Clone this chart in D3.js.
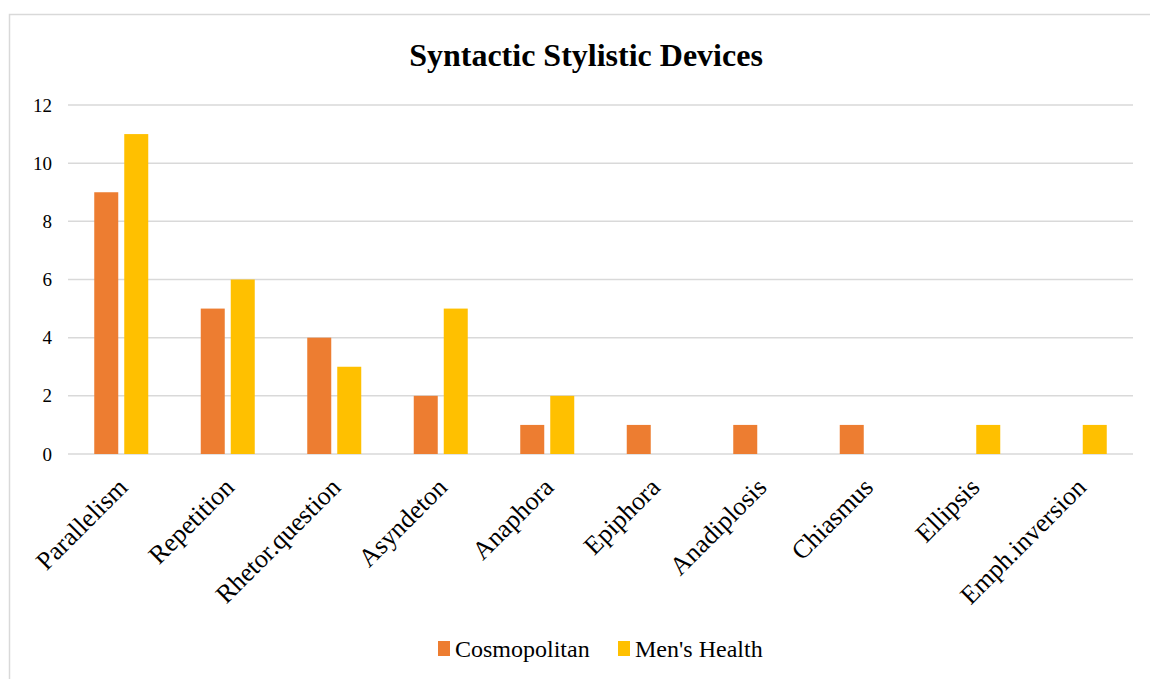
<!DOCTYPE html>
<html>
<head>
<meta charset="utf-8">
<script src="https://cdn.jsdelivr.net/npm/d3@7"></script>
<style>
  body { margin: 0; background: #fff; }
  text { font-family: "Liberation Serif", "Times New Roman", serif; fill: #000; }
</style>
</head>
<body>
<div id="canvas"></div>
<script>
// chart data
const categories = ["Parallelism", "Repetition", "Rhetor.question", "Asyndeton", "Anaphora",
    "Epiphora", "Anadiplosis", "Chiasmus", "Ellipsis", "Emph.inversion"];
const seriesNames = ["Cosmopolitan", "Men's Health"];
const cosmopolitan = [9, 5, 4, 2, 1, 1, 1, 1, 0, 0];
const mensHealth = [11, 6, 3, 5, 2, 0, 0, 0, 1, 1];
const yTicks = [0, 2, 4, 6, 8, 10, 12];
const colors = ["#ed7d31", "#ffc000"];

const W = 1150, H = 679;
const margin = {top: 105, right: 17, bottom: 225, left: 68};
const width = W - margin.left - margin.right,
      height = H - margin.top - margin.bottom;

const svg = d3.select("#canvas").append("svg")
    .attr("width", W)
    .attr("height", H);

// outer chart border
svg.append("rect")
    .attr("x", 9.5).attr("y", 14.5)
    .attr("width", 1200).attr("height", 700)
    .attr("fill", "none")
    .attr("stroke", "#d9d9d9")
    .attr("stroke-width", 1.5);

svg.append("text")
    .attr("x", 586).attr("y", 66)
    .attr("text-anchor", "middle")
    .style("font-size", "32px")
    .style("font-weight", "bold")
    .text("Syntactic Stylistic Devices");

const g = svg.append("g")
    .attr("transform", "translate(" + margin.left + "," + margin.top + ")");

const x = d3.scaleBand().domain(categories).range([0, width]);
const xInner = d3.scaleBand().domain(seriesNames)
    .range([x.bandwidth() / 2 - 27, x.bandwidth() / 2 + 27])
    .paddingInner(0.2);
const y = d3.scaleLinear().domain([0, 12]).range([height, 0]);

// gridlines
g.append("g")
    .selectAll("line")
    .data(yTicks)
    .enter().append("line")
    .attr("x1", 0).attr("x2", width)
    .attr("y1", d => y(d)).attr("y2", d => y(d))
    .attr("stroke", "#d9d9d9")
    .attr("stroke-width", 1.5);

// y axis labels
const yAxis = g.append("g")
    .call(d3.axisLeft(y).tickValues(yTicks).tickSize(0).tickPadding(16));
yAxis.select(".domain").remove();
yAxis.selectAll("text")
    .style("font-size", "19px")
    .style("font-family", "'Liberation Serif', serif");

// bars
const rows = categories.map((c, i) => ({cat: c, vals: [cosmopolitan[i], mensHealth[i]]}));
const groups = g.selectAll(".grp")
    .data(rows)
    .enter().append("g")
    .attr("class", "grp")
    .attr("transform", d => "translate(" + x(d.cat) + ",0)");

groups.selectAll("rect")
    .data(d => d.vals.map((v, k) => ({name: seriesNames[k], v: v, k: k})))
    .enter().append("rect")
    .filter(d => d.v > 0)
    .attr("x", d => xInner(d.name))
    .attr("width", xInner.bandwidth())
    .attr("y", d => y(d.v))
    .attr("height", d => y(0) - y(d.v))
    .attr("fill", d => colors[d.k]);

// x axis labels, rotated like the original
const xAxis = g.append("g")
    .attr("transform", "translate(0," + height + ")")
    .call(d3.axisBottom(x).tickSize(0).tickPadding(0));
xAxis.select(".domain").remove();
xAxis.selectAll("text")
    .style("font-size", "26px")
    .style("font-family", "'Liberation Serif', serif")
    .attr("text-anchor", "end")
    .attr("dy", "0.7em")
    .attr("transform", "translate(-5,22) rotate(-45)");

// legend
const legend = svg.append("g").attr("transform", "translate(438,641)");
const legendX = [0, 180];
seriesNames.forEach((s, i) => {
    legend.append("rect")
        .attr("x", legendX[i]).attr("y", 0)
        .attr("width", 12).attr("height", 15)
        .attr("fill", colors[i]);
    legend.append("text")
        .attr("x", legendX[i] + 17).attr("y", 16)
        .style("font-size", "24px")
        .text(s);
});
</script>
</body>
</html>
